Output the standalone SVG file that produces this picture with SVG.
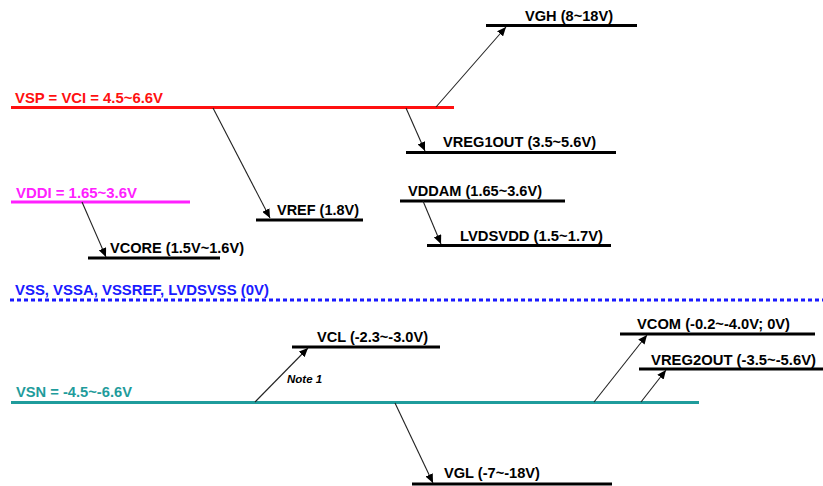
<svg xmlns="http://www.w3.org/2000/svg" width="823" height="486" viewBox="0 0 823 486">
<style>
text{font-family:"Liberation Sans",Arial,sans-serif;font-weight:bold;font-size:15.5px}
.rail{stroke-width:3;fill:none}
.blk{stroke:#000}
.arr{stroke:#222;stroke-width:1.1;fill:none;marker-end:url(#ah)}
</style>
<defs>
<marker id="ah" markerUnits="userSpaceOnUse" markerWidth="10" markerHeight="8" refX="9" refY="4" orient="auto">
<path d="M0,0 L9,4 L0,8 Z" fill="#000"/>
</marker>
</defs>
<rect width="823" height="486" fill="#fff"/>
<g id="vsp">
<line class="rail" x1="11" y1="107.5" x2="454" y2="107.5" stroke="#ff1010"/>
<text x="15" y="102.5" fill="#ff1010" textLength="148" lengthAdjust="spacingAndGlyphs">VSP = VCI = 4.5~6.6V</text>
</g>
<g id="vgh">
<line class="rail blk" x1="486" y1="25.5" x2="637" y2="25.5"/>
<text x="525" y="20.5" textLength="88" lengthAdjust="spacingAndGlyphs">VGH (8~18V)</text>
</g>
<g id="vreg1out">
<line class="rail blk" x1="406" y1="152.5" x2="616" y2="152.5"/>
<text x="443" y="146.5" textLength="153" lengthAdjust="spacingAndGlyphs">VREG1OUT (3.5~5.6V)</text>
</g>
<g id="vddi">
<line class="rail" x1="11" y1="202" x2="190" y2="202" stroke="#ff20ff"/>
<text x="16" y="198" fill="#ff20ff" textLength="121" lengthAdjust="spacingAndGlyphs">VDDI = 1.65~3.6V</text>
</g>
<g id="vref">
<line class="rail blk" x1="256" y1="220" x2="363" y2="220"/>
<text x="277" y="214.5" textLength="82" lengthAdjust="spacingAndGlyphs">VREF (1.8V)</text>
</g>
<g id="vcore">
<line class="rail blk" x1="88" y1="258" x2="220" y2="258"/>
<text x="110" y="253" textLength="134" lengthAdjust="spacingAndGlyphs">VCORE (1.5V~1.6V)</text>
</g>
<g id="vddam">
<line class="rail blk" x1="400" y1="201" x2="565" y2="201"/>
<text x="408" y="196" textLength="134" lengthAdjust="spacingAndGlyphs">VDDAM (1.65~3.6V)</text>
</g>
<g id="lvdsvdd">
<line class="rail blk" x1="427" y1="245.5" x2="611" y2="245.5"/>
<text x="460" y="240.5" textLength="143" lengthAdjust="spacingAndGlyphs">LVDSVDD (1.5~1.7V)</text>
</g>
<g id="vss">
<line x1="10" y1="300" x2="823" y2="300" stroke="#1a1aff" stroke-width="3" stroke-dasharray="4 3"/>
<text x="15" y="295" fill="#1a1aff" textLength="254" lengthAdjust="spacingAndGlyphs">VSS, VSSA, VSSREF, LVDSVSS (0V)</text>
</g>
<g id="vcl">
<line class="rail blk" x1="292" y1="347" x2="440" y2="347"/>
<text x="317" y="342" textLength="111" lengthAdjust="spacingAndGlyphs">VCL (-2.3~-3.0V)</text>
</g>
<g id="vsn">
<line class="rail" x1="11" y1="402.5" x2="699" y2="402.5" stroke="#1f9c9c"/>
<text x="16" y="396.5" fill="#1f9c9c" textLength="116" lengthAdjust="spacingAndGlyphs">VSN = -4.5~-6.6V</text>
</g>
<g id="vcom">
<line class="rail blk" x1="620" y1="334" x2="815" y2="334"/>
<text x="637" y="329" textLength="153" lengthAdjust="spacingAndGlyphs">VCOM (-0.2~-4.0V; 0V)</text>
</g>
<g id="vreg2out">
<line class="rail blk" x1="639" y1="369" x2="823" y2="369"/>
<text x="651" y="364.5" textLength="165" lengthAdjust="spacingAndGlyphs">VREG2OUT (-3.5~-5.6V)</text>
</g>
<g id="vgl">
<line class="rail blk" x1="412" y1="484" x2="612" y2="484"/>
<text x="444" y="478" textLength="96" lengthAdjust="spacingAndGlyphs">VGL (-7~-18V)</text>
</g>
<g id="connectors">
<line class="arr" x1="436" y1="107" x2="506" y2="27"/>
<line class="arr" x1="406" y1="108" x2="425" y2="151"/>
<line class="arr" x1="213" y1="108" x2="270" y2="218"/>
<line class="arr" x1="82" y1="202" x2="106" y2="257"/>
<line class="arr" x1="423" y1="201" x2="441" y2="244"/>
<line class="arr" x1="255" y1="402" x2="308" y2="348"/>
<line class="arr" x1="594" y1="402" x2="647" y2="335"/>
<line class="arr" x1="641" y1="402" x2="666" y2="370"/>
<line class="arr" x1="395" y1="403" x2="433" y2="483"/>
<text x="287" y="383" style="font-size:11.5px;font-style:italic">Note 1</text>
</g>
</svg>
